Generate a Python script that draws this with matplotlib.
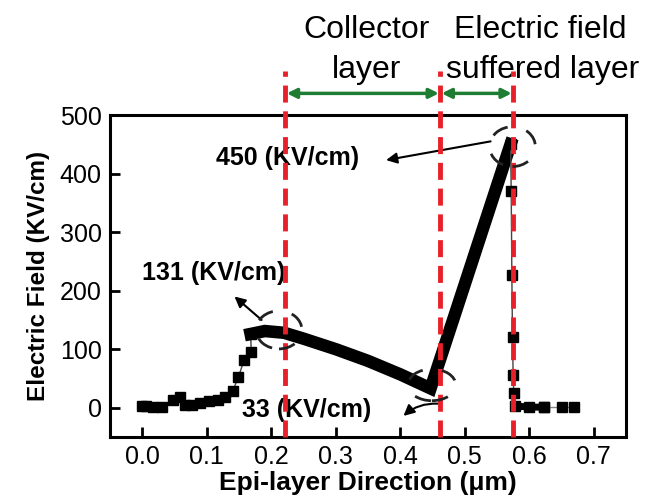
import matplotlib
matplotlib.use('Agg')
import matplotlib.pyplot as plt
from matplotlib.patches import Ellipse

plt.rcParams['font.family'] = ['Liberation Sans', 'DejaVu Sans']

# low-field region, sparse markers
x_low = [0.0, 0.006, 0.016, 0.031, 0.047, 0.058, 0.067, 0.077, 0.090,
         0.103, 0.118, 0.129, 0.140, 0.149, 0.158, 0.169, 0.168]
e_low = [3, 3, 1, 0.5, 14, 18, 4, 5, 8, 11, 14, 18, 28, 52, 82, 95, 126]

# dense (thick) part: collector + field suffered layer
x_thick = [0.168, 0.19, 0.22, 0.25, 0.30, 0.35, 0.40, 0.447, 0.50, 0.571]
e_thick = [126, 131, 128, 118, 100, 80, 57, 33, 211, 450]

# drop after the peak
x_drop = [0.571, 0.572, 0.573, 0.574, 0.575, 0.576, 0.578, 0.600, 0.623]
e_drop = [450, 371, 226, 121, 56, 25, 3, 1, 1]
x_tail = [0.623, 0.651, 0.669]
e_tail = [1, 1, 1]

boundaries = [0.222, 0.462, 0.575]
red = '#e8202a'
green = '#1e7d32'

fig = plt.figure(figsize=(6.49, 4.98), dpi=100)
ax = fig.add_axes([0.1695, 0.1225, 0.7951, 0.6465])

ax.plot(x_low, e_low, color='#444444', linewidth=1, marker='s',
        markersize=6.5, markerfacecolor='black', markeredgecolor='black', zorder=3)
ax.plot(x_thick, e_thick, color='black', linewidth=9, solid_joinstyle='miter', zorder=3)
ax.plot(x_drop, e_drop, color='#444444', linewidth=1, marker='s',
        markersize=6.5, markerfacecolor='black', markeredgecolor='black', zorder=3)
ax.plot(x_drop[-3:], e_drop[-3:], color='black', linewidth=5, zorder=3)
ax.plot(x_tail, e_tail, color='#888888', linewidth=1, marker='s',
        markersize=6.5, markerfacecolor='black', markeredgecolor='black', zorder=3)

# red layer boundaries, extending above the axes
for b in boundaries:
    ax.plot([b, b], [-50, 575], color=red, linewidth=3.5, linestyle=(0, (3.5, 1.8)),
            clip_on=False, zorder=4)

# green double arrows
for x0, x1 in [(boundaries[0], boundaries[1]), (boundaries[1], boundaries[2])]:
    ax.annotate('', xy=(x1, 537), xytext=(x0, 537), annotation_clip=False,
                arrowprops=dict(arrowstyle='<|-|>', color=green, lw=2.5,
                                mutation_scale=14, shrinkA=1, shrinkB=1))

ax.text(0.348, 645, 'Collector', ha='center', va='center', fontsize=23, clip_on=False)
ax.text(0.348, 577, 'layer', ha='center', va='center', fontsize=23, clip_on=False)
ax.text(0.617, 645, 'Electric field', ha='center', va='center', fontsize=23, clip_on=False)
ax.text(0.620, 577, 'suffered layer', ha='center', va='center', fontsize=23, clip_on=False)

# dashed circles around key points
for cx, cy, w, h in [(0.574, 446, 0.071, 68), (0.212, 133, 0.071, 65), (0.449, 39, 0.074, 54)]:
    ax.add_patch(Ellipse((cx, cy), w, h, fill=False, edgecolor='#222222',
                         linewidth=2, linestyle=(0, (6, 7)), zorder=5))

# annotations
arrow = dict(arrowstyle='-|>', color='black', lw=1.5, shrinkA=0, shrinkB=0, mutation_scale=16)
ax.annotate('', xy=(0.378, 423), xytext=(0.540, 455), arrowprops=arrow)
ax.text(0.115, 427, '450 (KV/cm)', fontsize=18, fontweight='bold', ha='left', va='center')
ax.annotate('', xy=(0.143, 190), xytext=(0.185, 150), arrowprops=arrow)
ax.text(0.0, 231, '131 (KV/cm)', fontsize=18, fontweight='bold', ha='left', va='center')
ax.annotate('', xy=(0.405, -14), xytext=(0.458, 7),
            arrowprops=dict(arrow, connectionstyle='arc3,rad=0.2'))
ax.text(0.155, -4, '33 (KV/cm)', fontsize=18, fontweight='bold', ha='left', va='center')

ax.set_xlim(-0.05, 0.75)
ax.set_ylim(-50, 500)
ax.set_xticks([0.0, 0.1, 0.2, 0.3, 0.4, 0.5, 0.6, 0.7])
ax.set_xticklabels(['0.0', '0.1', '0.2', '0.3', '0.4', '0.5', '0.6', '0.7'])
ax.set_yticks([0, 100, 200, 300, 400, 500])
ax.tick_params(direction='in', length=7, width=2, labelsize=18, pad=6)
for s in ax.spines.values():
    s.set_linewidth(2.2)

ax.set_xlabel('Epi-layer Direction (μm)', fontsize=19, fontweight='bold', labelpad=1)
ax.set_ylabel('Electric Field (KV/cm)', fontsize=17.5, fontweight='bold', labelpad=7)

fig.savefig('out.png', dpi=100)
